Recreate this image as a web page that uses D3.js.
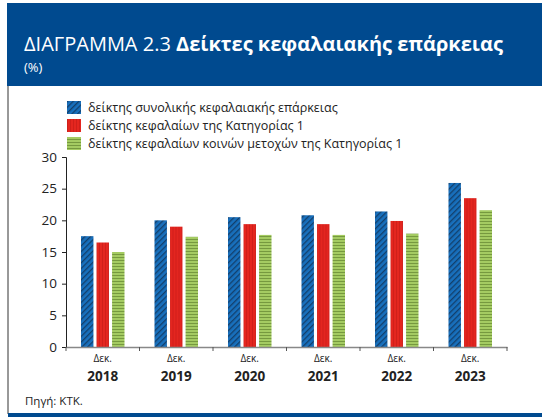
<!DOCTYPE html>
<html>
<head>
<meta charset="utf-8">
<script src="https://cdn.jsdelivr.net/npm/d3@7"></script>
<style>
  body { margin: 0; background: #fff; }
  svg { display: block; font-family: "Open Sans", "Noto Sans", sans-serif; }
</style>
</head>
<body>
<script>
// data
var years = ["2018", "2019", "2020", "2021", "2022", "2023"];
var seriesNames = [
    "δείκτης συνολικής κεφαλαιακής επάρκειας",
    "δείκτης κεφαλαίων της Κατηγορίας 1",
    "δείκτης κεφαλαίων κοινών μετοχών της Κατηγορίας 1"
];
var totalRatio = [17.5, 20.0, 20.5, 20.8, 21.4, 25.9];
var tier1Ratio = [16.5, 19.0, 19.4, 19.4, 19.9, 23.5];
var cet1Ratio  = [15.0, 17.4, 17.7, 17.7, 17.9, 21.6];
var yTicks = [0, 5, 10, 15, 20, 25, 30];

var W = 542, H = 417;
var svg = d3.select("body").append("svg").attr("width", W).attr("height", H);

// patterns
var defs = svg.append("defs");
var pb = defs.append("pattern").attr("id", "pBlue").attr("patternUnits", "userSpaceOnUse")
    .attr("width", 4).attr("height", 4).attr("patternTransform", "rotate(45)");
pb.append("rect").attr("width", 4).attr("height", 4).attr("fill", "#1870bd");
pb.append("rect").attr("width", 1.3).attr("height", 4).attr("fill", "#123f6b");

var pr = defs.append("pattern").attr("id", "pRed").attr("patternUnits", "userSpaceOnUse")
    .attr("width", 3).attr("height", 3);
pr.append("rect").attr("width", 3).attr("height", 3).attr("fill", "#e4261f");
pr.append("rect").attr("width", 1).attr("height", 3).attr("fill", "#d01f1a");

var pg = defs.append("pattern").attr("id", "pGreen").attr("patternUnits", "userSpaceOnUse")
    .attr("width", 3).attr("height", 3);
pg.append("rect").attr("width", 3).attr("height", 3).attr("fill", "#a4cb62");
pg.append("rect").attr("y", 2).attr("width", 3).attr("height", 1).attr("fill", "#76993f");

var fills = ["url(#pBlue)", "url(#pRed)", "url(#pGreen)"];

// frame: header, left rule, bottom bar
svg.append("rect").attr("x", 7).attr("y", 3).attr("width", W - 7).attr("height", 83).attr("fill", "#004a8f");
svg.append("line").attr("x1", 8).attr("x2", 8).attr("y1", 86).attr("y2", 414)
    .attr("stroke", "#333").attr("stroke-width", 1);
svg.append("rect").attr("x", 8).attr("y", 413).attr("width", W - 8).attr("height", 4).attr("fill", "#004a8f");

var title = svg.append("text").attr("x", 24).attr("y", 51).attr("fill", "#fff").style("font-size", "20px");
title.append("tspan").text("ΔΙΑΓΡΑΜΜΑ 2.3 ");
title.append("tspan").attr("font-weight", "bold").text("Δείκτες κεφαλαιακής επάρκειας");
svg.append("text").attr("x", 24).attr("y", 72).attr("fill", "#fff").style("font-size", "13px").text("(%)");

// scales
var x0 = d3.scaleBand().domain(years).range([66, 507]).paddingInner(0).paddingOuter(0);
var x1 = d3.scaleBand().domain([0, 1, 2]).range([15, x0.bandwidth() - 15]).paddingInner(0.2);
var y = d3.scaleLinear().domain([0, 30]).range([347, 157]);

// y axis
var yAxis = svg.append("g").attr("transform", "translate(66,0)")
    .call(d3.axisLeft(y).tickValues(yTicks).tickSize(4).tickPadding(5));
yAxis.select(".domain").attr("stroke", "#222");
yAxis.selectAll(".tick line").attr("stroke", "#222");
yAxis.selectAll("text").attr("fill", "#222").style("font-size", "13.5px").style("font-family", "'Open Sans', sans-serif");

// bars
var rows = [totalRatio, tier1Ratio, cet1Ratio];
var groups = svg.selectAll(".grp").data(years).enter().append("g")
    .attr("transform", function(d) { return "translate(" + x0(d) + ",0)"; });
groups.selectAll("rect").data(function(d, i) {
    return rows.map(function(r, s) { return { s: s, v: r[i] }; });
}).enter().append("rect")
    .attr("x", function(d) { return x1(d.s); })
    .attr("width", x1.bandwidth())
    .attr("y", function(d) { return y(d.v); })
    .attr("height", function(d) { return y(0) - y(d.v); })
    .attr("fill", function(d) { return fills[d.s]; });

// x axis
var xAxis = svg.append("g").attr("transform", "translate(0,347)")
    .call(d3.axisBottom(x0).tickSize(0).tickFormat(""));
xAxis.select(".domain").attr("stroke", "#888").attr("stroke-width", 1.5);
var bounds = [66].concat(years.map(function(d) { return x0(d) + x0.bandwidth(); }));
svg.selectAll(".xb").data(bounds).enter().append("line")
    .attr("x1", function(d) { return d; }).attr("x2", function(d) { return d; })
    .attr("y1", 347).attr("y2", 351).attr("stroke", "#555");
svg.selectAll(".xl1").data(years).enter().append("text")
    .attr("x", function(d) { return x0(d) + x0.bandwidth() / 2; }).attr("y", 362)
    .attr("text-anchor", "middle").attr("fill", "#222").style("font-size", "10px").text("Δεκ.");
svg.selectAll(".xl2").data(years).enter().append("text")
    .attr("x", function(d) { return x0(d) + x0.bandwidth() / 2; }).attr("y", 381)
    .attr("text-anchor", "middle").attr("fill", "#222").attr("font-weight", "bold")
    .style("font-size", "13.5px").text(function(d) { return d; });

// legend
var leg = svg.selectAll(".leg").data(seriesNames).enter().append("g")
    .attr("transform", function(d, i) { return "translate(67," + (101 + i * 18) + ")"; });
leg.append("rect").attr("width", 14).attr("height", 13).attr("fill", function(d, i) { return fills[i]; });
leg.append("text").attr("x", 21).attr("y", 11).attr("fill", "#222").style("font-size", "12.5px").text(function(d) { return d; });

// source
svg.append("text").attr("x", 25).attr("y", 405).attr("fill", "#222").style("font-size", "11.5px").text("Πηγή: ΚΤΚ.");
</script>
</body>
</html>
